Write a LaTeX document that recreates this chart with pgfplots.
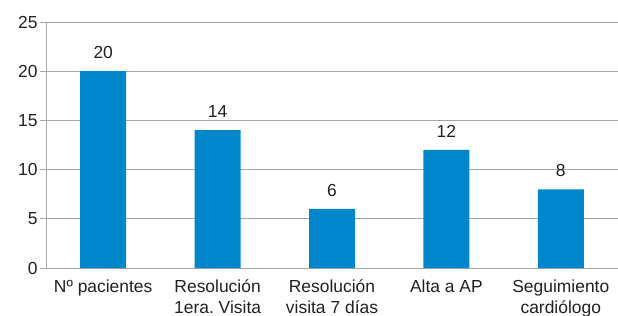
\documentclass[border=0pt]{standalone}
\usepackage{pgfplots}
\pgfplotsset{compat=1.18}
\usepackage{fontspec}
\setmainfont{Liberation Sans}
\definecolor{barblue}{HTML}{0087CB}
\definecolor{gridgray}{HTML}{A6A6A6}
\definecolor{txt}{HTML}{231F20}
\frenchspacing
\begin{document}
\begin{tikzpicture}
\path[use as bounding box] (-46bp,-48bp) rectangle (572bp,268bp);
\begin{axis}[
  at={(0,0)}, anchor=south west,
  scale only axis, width=572bp, height=246bp,
  xmin=-0.5, xmax=4.5, ymin=0, ymax=25,
  ytick={0,5,10,15,20,25},
  ymajorgrids, grid style={gridgray, line width=0.8pt},
  axis x line*=bottom, axis y line*=left,
  axis line style={gridgray, line width=0.8pt, -},
  y axis line style={gridgray},
  xtick={0,1,2,3,4},
  xticklabels={{N\textordmasculine{} pacientes},{Resolución\\1era. Visita},{Resolución\\visita 7 días},{Alta a AP},{Seguimiento\\cardiólogo}},
  xticklabel style={align=center, font=\fontsize{17.5}{21.5}\selectfont, text=txt, yshift=-2bp},
  major x tick style={draw=none},
  extra x ticks={-0.5,0.5,1.5,2.5,3.5,4.5},
  extra x tick labels={},
  extra x tick style={major tick length=6bp, tick style={gridgray, line width=0.8pt}, tick align=outside, grid=none},
  ytick style={gridgray, line width=0.8pt},
  major tick length=6bp, tick align=outside,
  yticklabel style={font=\fontsize{17.5}{20}\selectfont, text=txt, xshift=1bp},
  /pgf/number format/assume math mode=true,
  bar width=46bp,
  nodes near coords,
  every node near coord/.append style={font=\fontsize{17.5}{20}\selectfont, text=txt, yshift=9bp},
  clip=false,
]
\addplot[ybar, fill=barblue, draw=none] coordinates {(0,20) (1,14) (2,6) (3,12) (4,8)};
\end{axis}
\end{tikzpicture}
\end{document}
